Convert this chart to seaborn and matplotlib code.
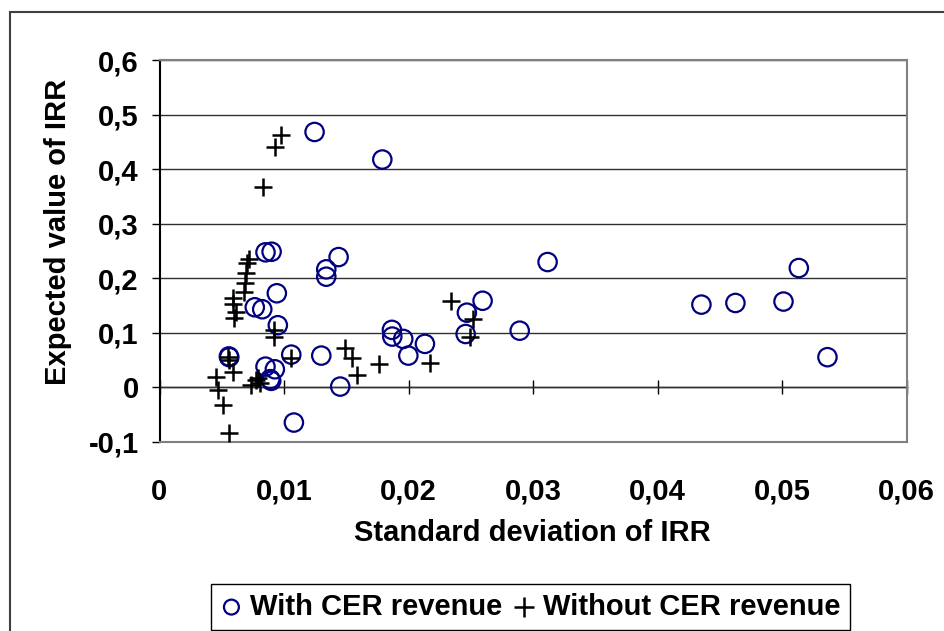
import matplotlib
matplotlib.use("Agg")
import matplotlib.pyplot as plt
from matplotlib.patches import Rectangle
import seaborn as sns
import pandas as pd

# ---- data ----
with_sd = [0.01245, 0.01789, 0.00851, 0.00900, 0.01438, 0.01339, 0.01339, 0.00942,
           0.00765, 0.00825, 0.00950, 0.00557, 0.00560, 0.01058, 0.01299, 0.00851,
           0.00926, 0.00889, 0.00897, 0.01451, 0.01079, 0.01866, 0.01869, 0.01957,
           0.01998, 0.02131, 0.02594, 0.02468, 0.02458, 0.02892, 0.04351, 0.04624,
           0.05010, 0.05363, 0.03116, 0.05133]
with_ev = [0.468, 0.4175, 0.2473, 0.2484, 0.2386, 0.2161, 0.2026, 0.1722,
           0.1465, 0.1429, 0.1136, 0.0564, 0.0550, 0.0597, 0.0579, 0.0377,
           0.0328, 0.0147, 0.0116, 0.0011, -0.0649, 0.1051, 0.0928, 0.0885,
           0.0579, 0.0794, 0.1585, 0.1366, 0.0975, 0.1036, 0.1514, 0.1544,
           0.1570, 0.0550, 0.2295, 0.2185]

without_sd = [0.00972, 0.00924, 0.00830, 0.00715, 0.00701, 0.00691, 0.00683, 0.00675,
              0.00594, 0.00589, 0.00616, 0.00602, 0.00918, 0.00918, 0.00549, 0.00562,
              0.00589, 0.00455, 0.00468, 0.00508, 0.00562, 0.00737, 0.00777, 0.00803,
              0.00790, 0.01058, 0.01486, 0.01545, 0.01588, 0.01759, 0.02174, 0.02341,
              0.02517, 0.02495]
without_ev = [0.462, 0.4396, 0.3663, 0.2344, 0.2282, 0.2088, 0.1916, 0.1751,
              0.1630, 0.1526, 0.1385, 0.1264, 0.1050, 0.0927, 0.0560, 0.0500,
              0.0286, 0.0194, -0.0049, -0.0324, -0.0842, 0.0042, 0.0134, 0.0073,
              0.0165, 0.0540, 0.0714, 0.0531, 0.0225, 0.0421, 0.0440, 0.1575,
              0.1245, 0.0916]

series_labels = ["With CER revenue", "Without CER revenue"]
x_ticks = [0, 0.01, 0.02, 0.03, 0.04, 0.05, 0.06]
x_tick_labels = ["0", "0,01", "0,02", "0,03", "0,04", "0,05", "0,06"]
y_ticks = [-0.1, 0, 0.1, 0.2, 0.3, 0.4, 0.5, 0.6]
y_tick_labels = ["-0,1", "0", "0,1", "0,2", "0,3", "0,4", "0,5", "0,6"]
x_title = "Standard deviation of IRR"
y_title = "Expected value of IRR"

# ---- style ----
sns.set_style("white")
plt.rcParams["font.family"] = ["Liberation Sans", "DejaVu Sans"]
plt.rcParams["font.weight"] = "bold"
plt.rcParams["text.color"] = "black"
plt.rcParams["axes.labelcolor"] = "black"
plt.rcParams["xtick.color"] = "black"
plt.rcParams["ytick.color"] = "black"
FS = 21
NAVY = "#000080"

W, H = 944, 631
fig = plt.figure(figsize=(W / 100, H / 100), dpi=100)
ax = fig.add_axes([159.5 / W, 1 - 441.7 / H, (906.8 - 159.5) / W, (441.7 - 60) / H])

df_with = pd.DataFrame({"sd": with_sd, "ev": with_ev})
df_without = pd.DataFrame({"sd": without_sd, "ev": without_ev})

sns.scatterplot(data=df_with, x="sd", y="ev", ax=ax, marker="o", s=175,
                color=NAVY, linewidth=1.6, label=series_labels[0], zorder=3)
coll_o = ax.collections[-1]
coll_o.set_facecolor("none")
coll_o.set_edgecolor(NAVY)

sns.scatterplot(data=df_without, x="sd", y="ev", ax=ax, marker="+", s=160,
                color="black", linewidth=1.8, label=series_labels[1], zorder=4)
coll_p = ax.collections[-1]
coll_p.set_edgecolor("black")
coll_p.set_facecolor("black")

ax.set_xlim(0, 0.06)
ax.set_ylim(-0.1, 0.6)
ax.set_xticks(x_ticks)
ax.set_xticklabels(x_tick_labels, fontsize=FS, fontweight="bold", color="black")
ax.set_yticks(y_ticks)
ax.set_yticklabels(y_tick_labels, fontsize=FS, fontweight="bold", color="black")
ax.tick_params(axis="x", length=0, pad=26)
ax.tick_params(axis="y", direction="out", length=6, width=1, color="black", pad=9, left=True)

ax.grid(axis="y", color="#303030", linewidth=1)
ax.grid(axis="x", visible=False)
ax.set_axisbelow(True)

for side in ["top", "right", "bottom"]:
    ax.spines[side].set_color("#808080")
    ax.spines[side].set_linewidth(1.5)
ax.spines["left"].set_color("black")
ax.spines["left"].set_linewidth(1.5)

# horizontal axis line crossing at y = 0, with cross tick marks
sec = ax.secondary_xaxis(1 / 7)
sec.set_xticks(x_ticks)
sec.tick_params(axis="x", direction="inout", length=10, width=1, color="black",
                labelbottom=False)
sec.spines["bottom"].set_color("black")
sec.spines["bottom"].set_linewidth(1)

ax.set_xlabel(x_title, fontsize=FS, fontweight="bold", color="black")
ax.xaxis.set_label_coords(0.499, -0.2025)
ax.set_ylabel(y_title, fontsize=FS, fontweight="bold", color="black")
ax.yaxis.set_label_coords(-0.117, 0.551)

# legend
handles, labels = ax.get_legend_handles_labels()
ax.get_legend().remove()
leg = fig.legend(handles, labels, loc="upper left",
                 bbox_to_anchor=(211 / W, 1 - 584 / H), bbox_transform=fig.transFigure,
                 ncol=2, frameon=True, fancybox=False, edgecolor="black",
                 borderpad=0.3, handlelength=0.8, handletextpad=0.25,
                 columnspacing=0.35, borderaxespad=0,
                 prop={"size": FS, "weight": "bold"})
leg.get_frame().set_linewidth(1)
leg.get_frame().set_alpha(1)
leg.legend_handles[0].set_sizes([115])
leg.legend_handles[1].set_sizes([225])
for t in leg.get_texts():
    t.set_color("black")

# outer chart border
fig.patches.append(Rectangle((10 / W, -0.2), 1.2, 1 - 12 / H + 0.2,
                             transform=fig.transFigure, fill=False,
                             edgecolor="#404040", linewidth=1.5))

fig.savefig("out.png", dpi=100)
